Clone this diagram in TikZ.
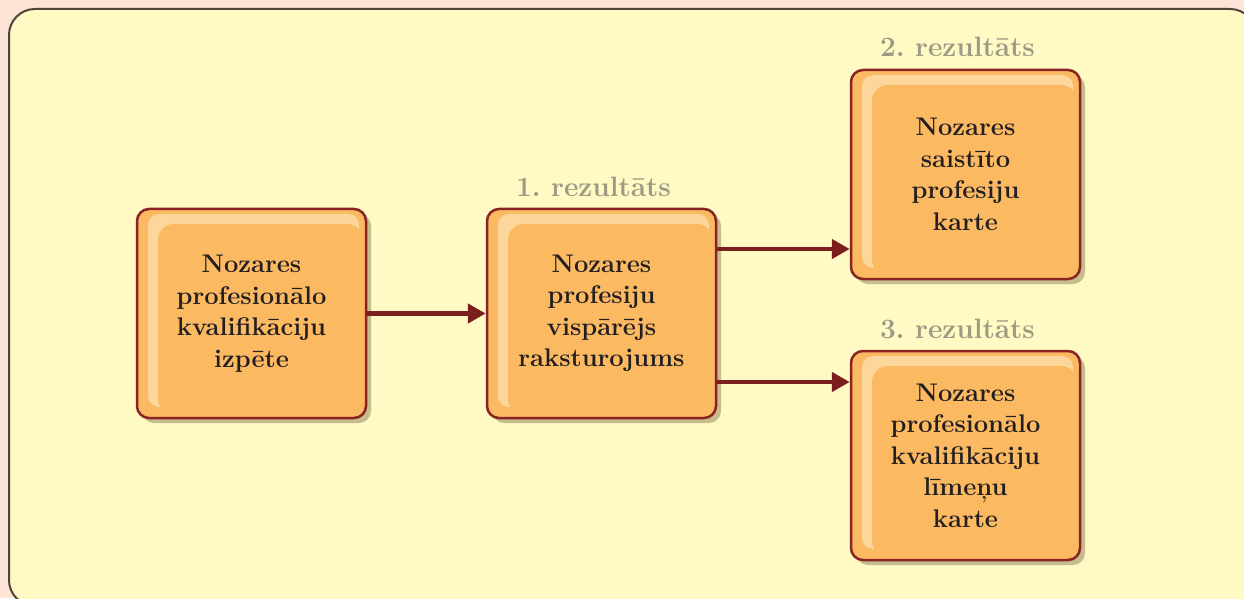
\documentclass[tikz,border=0pt]{standalone}
\usetikzlibrary{arrows.meta,shadows,calc}
\definecolor{pagebg}{HTML}{FDE4D6}
\definecolor{framefill}{HTML}{FFF9C4}
\definecolor{framedraw}{HTML}{4F4538}
\definecolor{boxfill}{HTML}{FBB962}
\definecolor{boxlight}{HTML}{FDD69C}
\definecolor{boxdraw}{HTML}{8A2424}
\definecolor{arrowcol}{HTML}{7B1E1E}
\definecolor{labelcol}{HTML}{9C9A84}
\definecolor{textcol}{HTML}{231F20}
\definecolor{shadowcol}{HTML}{C6BC8E}
\tikzset{
  stagebox/.style={draw=boxdraw, line width=2.5pt, fill=boxfill, rounded corners=12pt,
    minimum width=229pt, minimum height=209pt, inner sep=0pt,
    align=center, text=textcol, font=\bfseries\fontsize{25.5}{31.5}\selectfont,
    drop shadow={shadow xshift=5pt, shadow yshift=-5pt, fill=shadowcol, opacity=1},
    path picture={
      \fill[boxlight, rounded corners=11pt]
        ($(path picture bounding box.north west)+(11pt,-5pt)$) rectangle
        ($(path picture bounding box.south east)+(-7pt,11pt)$);
      \fill[boxfill, rounded corners=16pt]
        ($(path picture bounding box.north west)+(21pt,-15pt)$) rectangle
        ($(path picture bounding box.south east)+(-3pt,3pt)$);
    }},
  reslabel/.style={anchor=base, text=labelcol, font=\bfseries\fontsize{28}{32}\selectfont, inner sep=0pt},
  flow/.style={draw=arrowcol, line width=4.5pt, -{Triangle[length=18pt,width=19pt]}}
}
\begin{document}
\begin{tikzpicture}[x=1pt,y=1pt]
\useasboundingbox (0,0) rectangle (1244,598);
\fill[pagebg] (0,0) rectangle (1244,598);
\begin{scope}
\clip (0,0) rectangle (1244,598);
\draw[framedraw, line width=2pt, fill=framefill, rounded corners=26pt] (9,-8) rectangle (1256,589);
\end{scope}
% boxes
\node[stagebox] (a) at (251.5,284.5) {Nozares\\profesionālo\\kvalifikāciju\\izpēte};
\node[stagebox] (b) at (601.5,284.5) {Nozares\\profesiju\\vispārējs\\raksturojums};
\node[stagebox] (c) at (965.5,423.5) {Nozares\\saistīto\\profesiju\\karte};
\node[stagebox] (d) at (965.5,142.5) {Nozares\\profesionālo\\kvalifikāciju\\līmeņu\\karte};
% labels
\node[reslabel] (lb) at (593.5,401) {1.\ rezultāts};
\node[reslabel] (lc) at (957.5,541) {2.\ rezultāts};
\node[reslabel] (ld) at (957.5,260) {3.\ rezultāts};
% arrows
\draw[flow] (a.east) -- (b.west);
\draw[flow] ([yshift=64.5pt]b.east) coordinate (bc) -- (bc -| c.west);
\draw[flow] ([yshift=-68.5pt]b.east) coordinate (bd) -- (bd -| d.west);
\end{tikzpicture}
\end{document}
